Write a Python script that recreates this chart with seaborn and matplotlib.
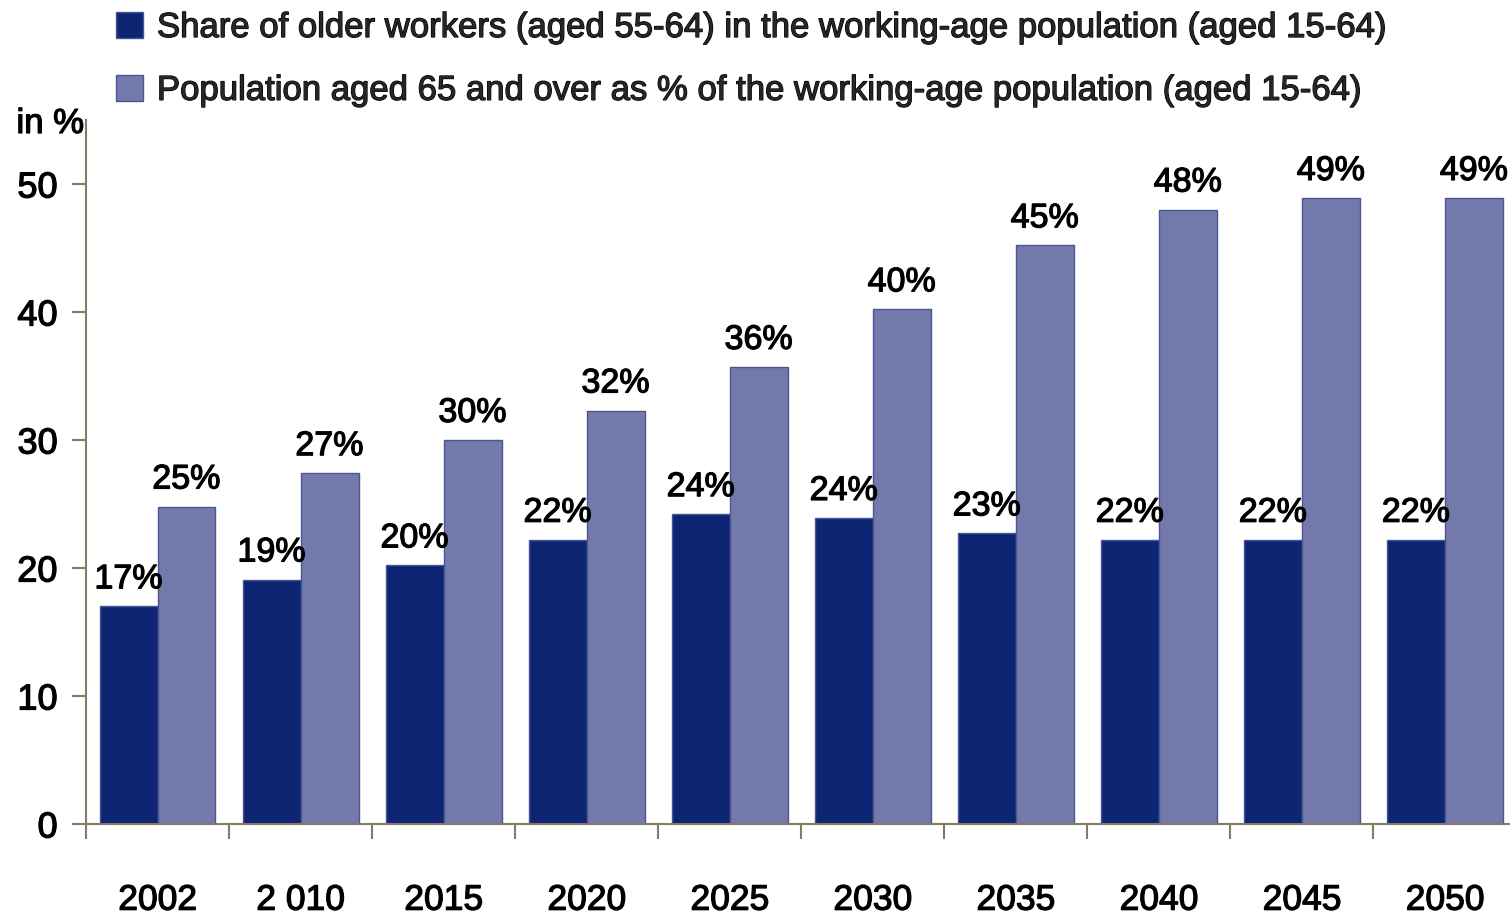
import matplotlib
matplotlib.use("Agg")
import matplotlib.pyplot as plt
import matplotlib.patheffects as pe
import seaborn as sns
import pandas as pd

# ---- data -------------------------------------------------------------
years = ["2002", "2 010", "2015", "2020", "2025", "2030", "2035", "2040", "2045", "2050"]
older_workers_share = [17.0, 19.1, 20.2, 22.2, 24.2, 23.9, 22.7, 22.2, 22.2, 22.2]
old_age_ratio = [24.8, 27.4, 30.0, 32.3, 35.7, 40.2, 45.2, 48.0, 48.9, 48.9]
series_names = [
    "Share of older workers (aged 55-64) in the working-age population (aged 15-64)",
    "Population aged 65 and over as % of the working-age population (aged 15-64)",
]
y_ticks = [0, 10, 20, 30, 40, 50]
y_unit = "in %"

# ---- style --------------------------------------------------------------
DARK = "#0e2574"
LIGHT = "#737aab"
AXIS = "#857a63"
HEAVY = [pe.Stroke(linewidth=0.9, foreground="black"), pe.Normal()]

sns.set_theme(style="white")
plt.rcParams["font.family"] = ["Liberation Sans", "DejaVu Sans"]

W, H = 1510, 918
fig = plt.figure(figsize=(W / 100, H / 100), dpi=100)
# axes box in pixel terms: left spine at x=86, zero line at y=824, top at y=120
ax = fig.add_axes([86 / W, (H - 824) / H, (1516.5 - 86) / W, (824 - 120) / H])

df = pd.DataFrame({
    "year": years * 2,
    "value": older_workers_share + old_age_ratio,
    "series": [series_names[0]] * len(years) + [series_names[1]] * len(years),
})

sns.barplot(
    data=df, x="year", y="value", hue="series",
    order=years, hue_order=series_names,
    palette={series_names[0]: DARK, series_names[1]: LIGHT},
    saturation=1, width=0.81, linewidth=1, edgecolor="#4a5594", ax=ax,
)

ax.set_xlim(-0.5, 9.5)
ax.set_ylim(0, 55)
ax.set_xlabel("")
ax.set_ylabel("")

for side in ("top", "right"):
    ax.spines[side].set_visible(False)
for side in ("left", "bottom"):
    ax.spines[side].set_color(AXIS)
    ax.spines[side].set_linewidth(1.5)

ax.set_yticks(y_ticks)
ax.set_yticklabels([str(t) for t in y_ticks])
ax.tick_params(axis="y", length=10, width=1.5, color=AXIS, pad=10.5,
               labelsize=26, labelcolor="black", left=True)

ax.set_xticks(range(len(years)))
ax.set_xticklabels(years)
ax.set_xticks([i - 0.5 for i in range(len(years) + 1)], minor=True)
ax.tick_params(axis="x", which="major", length=0, pad=43, labelsize=25.5,
               labelcolor="black")
ax.tick_params(axis="x", which="minor", length=11, width=1.5, color=AXIS,
               bottom=True)

for lbl in ax.get_xticklabels() + ax.get_yticklabels():
    lbl.set_path_effects(HEAVY)

# value labels above each bar
for container, values in zip(ax.containers, [older_workers_share, old_age_ratio]):
    texts = ax.bar_label(container, labels=[f"{round(v)}%" for v in values],
                         padding=8, fontsize=24.5, color="black")
    for t in texts:
        t.set_path_effects(HEAVY)

# legend above the plot area
handles, labels = ax.get_legend_handles_labels()
if ax.legend_ is not None:
    ax.legend_.remove()
leg = fig.legend(
    handles, labels, loc="upper left", bbox_to_anchor=(116 / W, 1 - 11 / H),
    frameon=False, fontsize=25, handlelength=0.78, handleheight=0.78,
    handletextpad=0.4, labelspacing=0.86, borderpad=0, borderaxespad=0,
)
for t in leg.get_texts():
    t.set_path_effects(HEAVY)

unit = fig.text(84 / W, 1 - 133 / H, y_unit, ha="right", va="baseline",
                fontsize=25, color="black")
unit.set_path_effects(HEAVY)

fig.savefig("out.png", dpi=100)
